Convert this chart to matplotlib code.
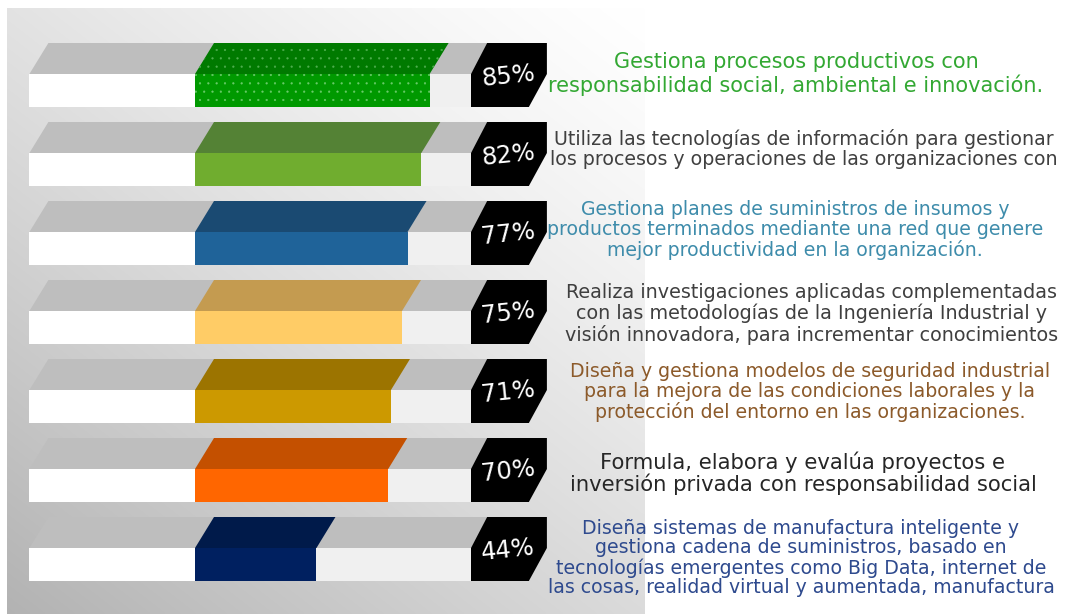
import numpy as np
import matplotlib
matplotlib.use("Agg")
import matplotlib.pyplot as plt
from matplotlib.patches import Polygon

plt.rcParams["hatch.linewidth"] = 0.35

# ---------------- data ----------------
values = [85, 82, 77, 75, 71, 70, 44]
value_labels = ["85%", "82%", "77%", "75%", "71%", "70%", "44%"]
descriptions = [
    "Gestiona procesos productivos con\nresponsabilidad social, ambiental e innovación.",
    "Utiliza las tecnologías de información para gestionar\nlos procesos y operaciones de las organizaciones con",
    "Gestiona planes de suministros de insumos y\nproductos terminados mediante una red que genere\nmejor productividad en la organización.",
    "Realiza investigaciones aplicadas complementadas\ncon las metodologías de la Ingeniería Industrial y\nvisión innovadora, para incrementar conocimientos",
    "Diseña y gestiona modelos de seguridad industrial\npara la mejora de las condiciones laborales y la\nprotección del entorno en las organizaciones.",
    "Formula, elabora y evalúa proyectos e\ninversión privada con responsabilidad social",
    "Diseña sistemas de manufactura inteligente y\ngestiona cadena de suministros, basado en\ntecnologías emergentes como Big Data, internet de\nlas cosas, realidad virtual y aumentada, manufactura",
]
front_colors = ["#009900", "#70AD2F", "#1F6399", "#FFCC66", "#CC9900", "#FF6600", "#002060"]
top_colors = ["#007A00", "#548235", "#1A4A72", "#C49B50", "#9C7400", "#C45000", "#001A4A"]
text_colors = ["#33A833", "#404040", "#3E8CAB", "#3F3F3F", "#8C5A2A", "#262626", "#2E4A8E"]
text_sizes = [15.0, 13.7, 13.6, 13.8, 13.6, 15.2, 13.6]
text_spacing = [1.12, 1.12, 1.04, 1.1, 1.05, 1.03, 1.04]
text_dy = [31, 27, 29, 34, 33, 35, 41]
text_cx = [796, 804, 795, 812, 810, 803, 801]

# ---------------- layout ----------------
W, H = 1069, 614
fig = plt.figure(figsize=(W / 100, H / 100), dpi=100)
fig.patch.set_facecolor("white")

# background axes in pixel units
axb = fig.add_axes([0, 0, 1, 1])
axb.set_xlim(0, W)
axb.set_ylim(H, 0)
axb.axis("off")

# gradient panel
px0, px1, py0, py1 = 7, 645, 8, 614
gx = np.linspace(0, 1, 300)
gy = np.linspace(0, 1, 300)
GX, GY = np.meshgrid(gx, gy)
d = np.clip(((1 - GX) * 0.45 + GY * 0.55), 0, 1)
shade = 1.0 - 0.30 * d ** 1.25
img = np.dstack([shade, shade, shade])
axb.imshow(img, extent=[px0, px1, py1, py0], aspect="auto", zorder=0, interpolation="bilinear")

# bars axes: x in percent units
PX_PER_PCT = 2.76
ZERO_PX = 195
ax = fig.add_axes([0, 0, 1, 1])
ax.set_xlim(-ZERO_PX / PX_PER_PCT, (W - ZERO_PX) / PX_PER_PCT)
ax.set_ylim(H, 0)
ax.axis("off")
ax.patch.set_alpha(0)

track_left = -60.0
full = 100.0
slant = 19 / PX_PER_PCT
badge_right = 127.5
top_h = 31
front_h = 33
row0 = 43
pitch = 79

for i, v in enumerate(values):
    top = row0 + pitch * i
    ftop = top + top_h
    fbot = ftop + front_h
    fc = ftop + front_h / 2

    # top face track
    ax.add_patch(Polygon([(track_left, ftop), (track_left + slant, top),
                          (full + slant, top), (full, ftop)],
                         closed=True, facecolor="#BEBEBE", edgecolor="none", zorder=2))
    # front face track pieces
    ax.barh(fc, -track_left, left=track_left, height=front_h, color="white", zorder=2)
    ax.barh(fc, full - v, left=v, height=front_h, color="#F0F0F0", zorder=2)

    hatch = ".." if i == 0 else None
    ec_top = "#4FAF4F" if i == 0 else "none"
    ec_front = "#6ACB6A" if i == 0 else "none"
    # value top face
    ax.add_patch(Polygon([(0, ftop), (slant, top), (v + slant, top), (v, ftop)],
                         closed=True, facecolor=top_colors[i], edgecolor=ec_top,
                         linewidth=0, hatch=hatch, zorder=3))
    # value front face
    ax.barh(fc, v, left=0, height=front_h, color=front_colors[i], edgecolor=ec_front,
            linewidth=0, hatch=hatch, zorder=3)

    # badge
    ax.add_patch(Polygon([(full, ftop), (full + slant * 0.85, top), (badge_right, top),
                          (badge_right, ftop), (badge_right - slant * 0.95, fbot), (full, fbot)],
                         closed=True, facecolor="black", edgecolor="none", zorder=6))
    ax.text(113.4, ftop + 2, value_labels[i], ha="center", va="center", color="white",
            fontsize=17.5, family="DejaVu Sans", rotation=6, zorder=7)

    # description text
    axb.text(text_cx[i], top + text_dy[i], descriptions[i], ha="center", va="center",
             multialignment="center", fontsize=text_sizes[i], color=text_colors[i],
             family="DejaVu Sans", linespacing=text_spacing[i], zorder=4)

fig.savefig("out.png", dpi=100, facecolor="white")
